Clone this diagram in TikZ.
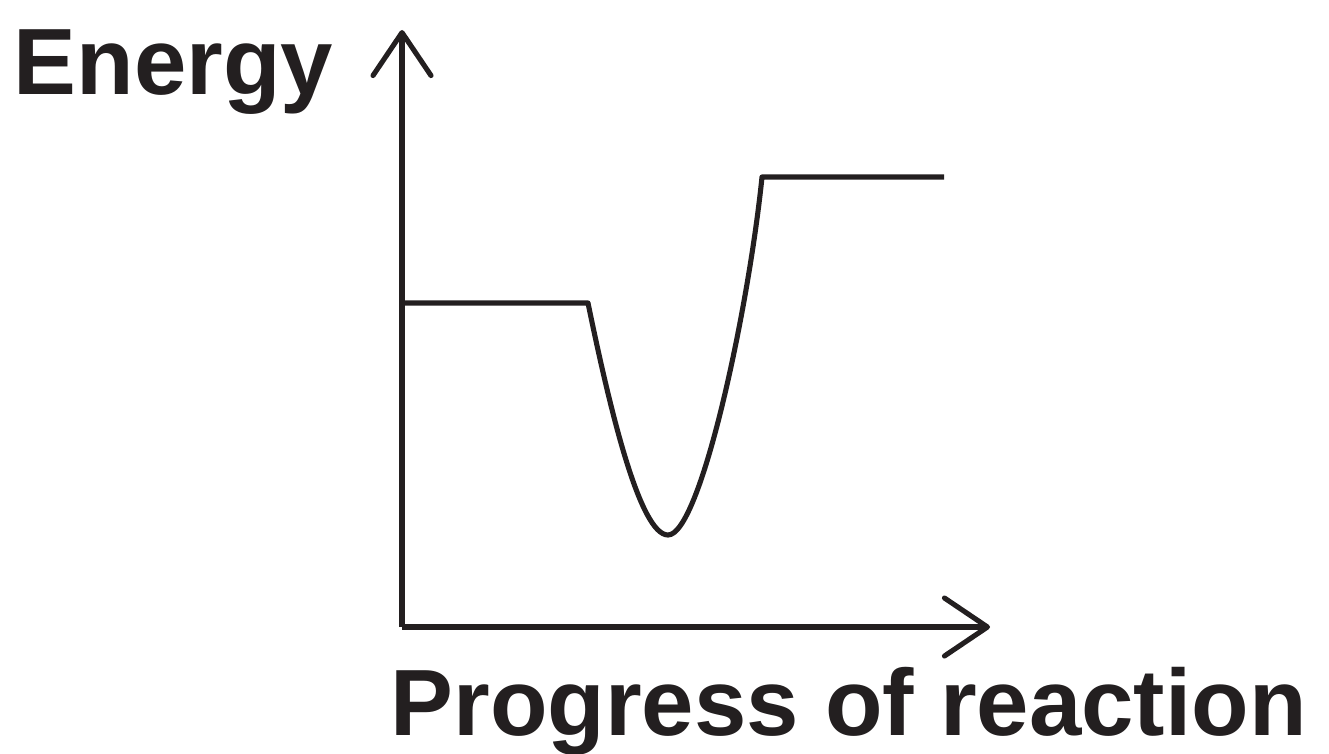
\documentclass[tikz,border=0pt]{standalone}
\usepackage{fontspec}
\setmainfont{Liberation Sans}
\usetikzlibrary{arrows.meta}
\definecolor{ink}{HTML}{231F20}
\tikzset{
  axis/.style={draw=ink,line width=1.45pt,
    -{Straight Barb[length=4.3mm,width=5.8mm,round]}},
  curve/.style={draw=ink,line width=1.45pt,line join=round},
  axlbl/.style={text=ink,font=\fontsize{26.8}{30}\selectfont\bfseries,
    inner sep=0pt},
}
\begin{document}
\begin{tikzpicture}
  \useasboundingbox (0,0) rectangle (13.29,7.53);
  % axes
  \coordinate (o) at (4.02,1.26);
  \coordinate (ytip) at (4.02,7.23);
  \coordinate (xtip) at (9.90,1.26);
  \draw[axis] (o) -- (ytip);
  \draw[axis] (o) -- (xtip);
  % energy profile
  \coordinate (r0) at (4.02,4.50);
  \coordinate (r1) at (5.88,4.50);
  \coordinate (lo) at (6.68,2.18);
  \coordinate (p0) at (7.62,5.76);
  \coordinate (p1) at (9.44,5.76);
  \draw[curve] (r0) -- (r1) .. controls (6.10,3.43) and (6.40,2.18) .. (lo)
    .. controls (7.00,2.18) and (7.48,4.40) .. (p0) -- (p1);
  % labels
  \node[axlbl,anchor=base west] (ylab) at (0.13,6.58) {Energy};
  \node[axlbl,anchor=base west] (xlab) at (3.90,0.18) {Progress of reaction};
\end{tikzpicture}
\end{document}
